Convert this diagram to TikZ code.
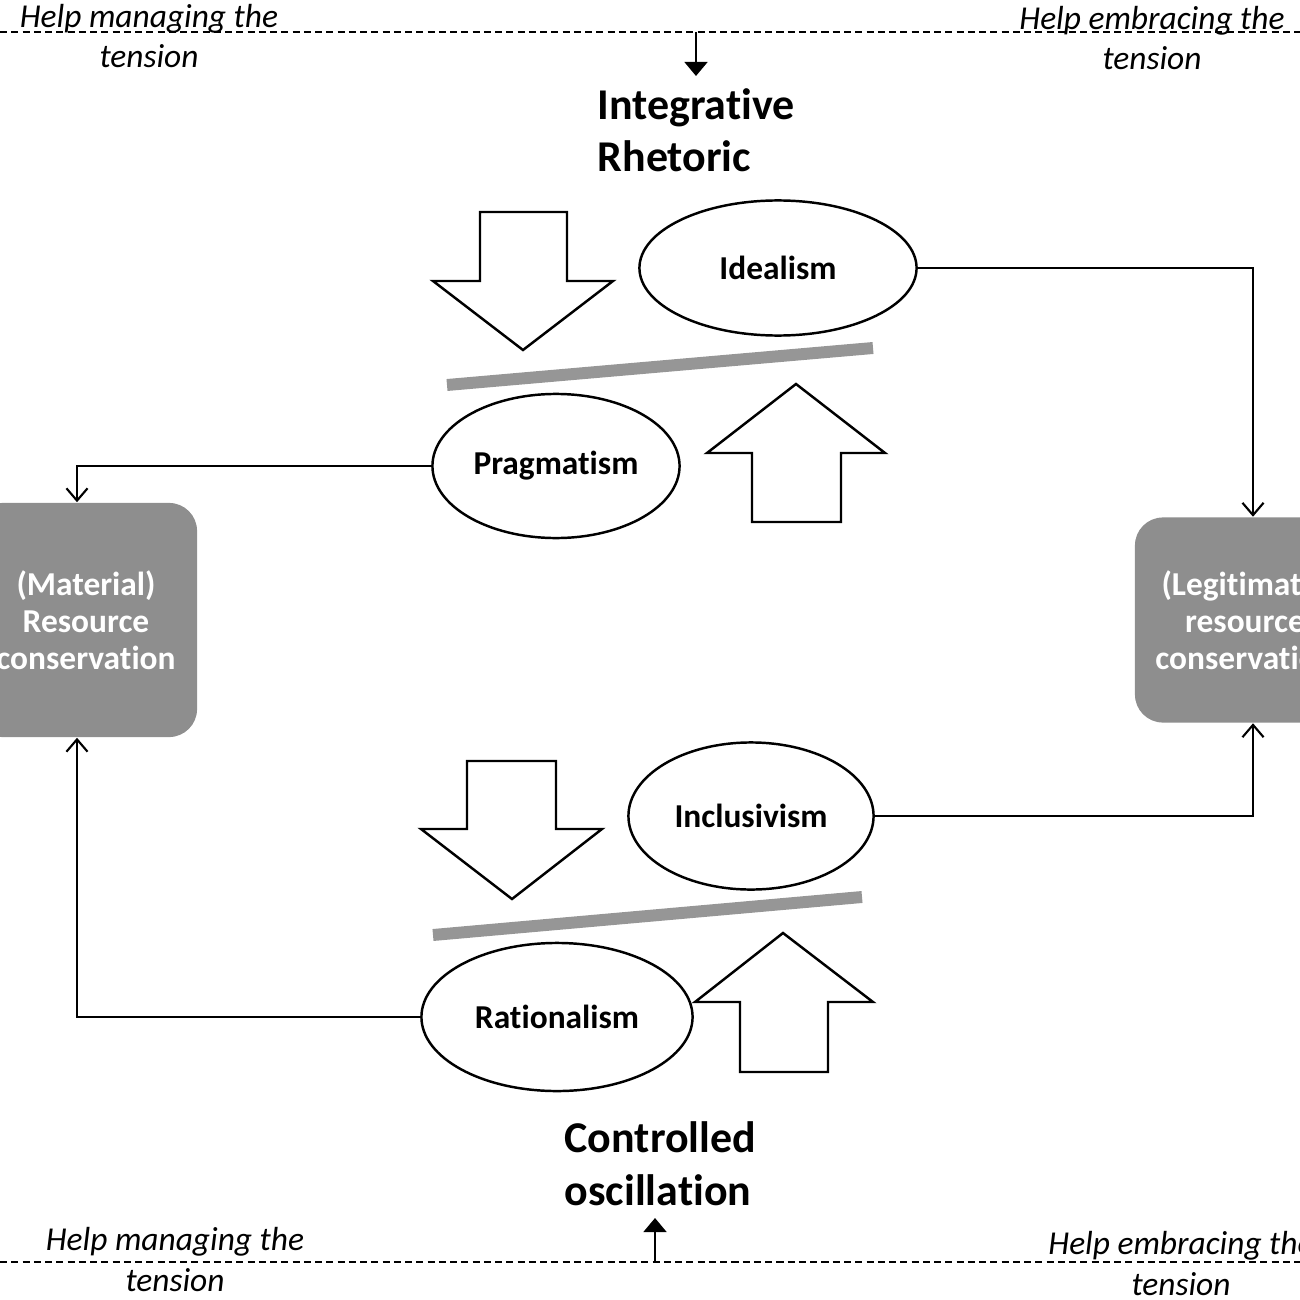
\documentclass[tikz,border=0pt]{standalone}
\usepackage{fontspec}
\setmainfont{Carlito}[Ligatures=NoCommon]
\usetikzlibrary{shapes.geometric,arrows.meta}
\definecolor{boxgray}{RGB}{142,142,142}
\definecolor{bargray}{RGB}{150,150,150}
\begin{document}
\begin{tikzpicture}[x=0.01cm,y=-0.01cm,
  oval/.style={ellipse,draw=black,line width=0.7pt,fill=white,inner sep=0pt,
    font=\fontsize{9.5}{11}\selectfont\bfseries},
  res/.style={rectangle,rounded corners=0.28cm,fill=boxgray,text=white,inner sep=0pt,
    align=center,font=\fontsize{9.5}{10.5}\selectfont\bfseries},
  title/.style={anchor=base west,align=left,inner sep=0pt,font=\fontsize{12.5}{14.8}\selectfont\bfseries},
  hint/.style={anchor=base,align=center,inner sep=0pt,font=\fontsize{9.5}{11.5}\selectfont\itshape},
  conn/.style={line width=0.6pt,-{Straight Barb[length=3.5pt,width=6pt]}},
  guide/.style={line width=0.65pt,dash pattern=on 2pt off 1.2pt},
  pointer/.style={line width=0.7pt,-{Triangle[length=4pt,width=6.5pt]}},
  blockarrow/.style={draw=black,line width=0.7pt,fill=white,line join=miter},
  bar/.style={draw=bargray,line width=3.4pt}
]
\useasboundingbox (0,0) rectangle (1300,1300);
\clip (0,0) rectangle (1300,1300);

% dashed guide lines
\coordinate (gtl) at (0,32);
\coordinate (gtr) at (1300,32);
\coordinate (gbl) at (0,1262);
\coordinate (gbr) at (1300,1262);
\draw[guide] (gtl) -- (gtr);
\draw[guide] (gbl) -- (gbr);

% hint labels (anchor base = baseline of last line)
\node[hint] (h1) at (149,68) {Help managing the\\tension};
\node[hint] (h2) at (1152,70) {Help embracing the\\tension};
\node[hint] (h3) at (175,1291) {Help managing the\\tension};
\node[hint] (h4) at (1181,1295) {Help embracing the\\tension};

% titles
\node[title] (ir) at (597,172) {Integrative\\Rhetoric};
\node[title] (co) at (564,1205) {Controlled\\oscillation};

% small pointers
\coordinate (ta) at (696,32);
\coordinate (tb) at (696,76);
\draw[pointer] (ta) -- (tb);
\coordinate (ba) at (655,1262);
\coordinate (bb) at (655,1218);
\draw[pointer] (ba) -- (bb);

% tension bars
\draw[bar] (447,385) -- (873,348);
\draw[bar] (433,935) -- (862,897);

% block arrows
\draw[blockarrow] (480,212) -- (567,212) -- (567,281) -- (613,281) -- (523,350) -- (433,281) -- (480,281) -- cycle;
\draw[blockarrow] (752,522) -- (841,522) -- (841,453) -- (885,453) -- (796,384) -- (707,453) -- (752,453) -- cycle;
\draw[blockarrow] (467,761) -- (556,761) -- (556,829) -- (602,829) -- (512,899) -- (421,829) -- (467,829) -- cycle;
\draw[blockarrow] (740,1072) -- (828,1072) -- (828,1002) -- (873,1002) -- (783,933) -- (695,1002) -- (740,1002) -- cycle;

% ellipses
\node[oval,minimum width=2.77cm,minimum height=1.35cm] (ideal) at (778,268) {Idealism};
\node[oval,minimum width=2.47cm,minimum height=1.44cm] (prag) at (556,466) {Pragmatism};
\node[oval,minimum width=2.45cm,minimum height=1.47cm] (incl) at (751,816) {Inclusivism};
\node[oval,minimum width=2.71cm,minimum height=1.48cm] (rat) at (557,1017) {Rationalism};

% resource boxes
\node[res,minimum width=2.22cm,minimum height=2.34cm] (mat) at (86,620) {(Material)\\Resource\\conservation};
\node[res,minimum width=2.20cm,minimum height=2.05cm] (leg) at (1245,620) {(Legitimate)\\resource\\conservation};

% connectors
\draw[conn] (ideal.east) -| ([xshift=0.08cm]leg.north);
\draw[conn] (incl.east) -| ([xshift=0.08cm]leg.south);
\draw[conn] (prag.west) -| ([xshift=-0.09cm]mat.north);
\draw[conn] (rat.west) -| ([xshift=-0.09cm]mat.south);
\end{tikzpicture}
\end{document}
